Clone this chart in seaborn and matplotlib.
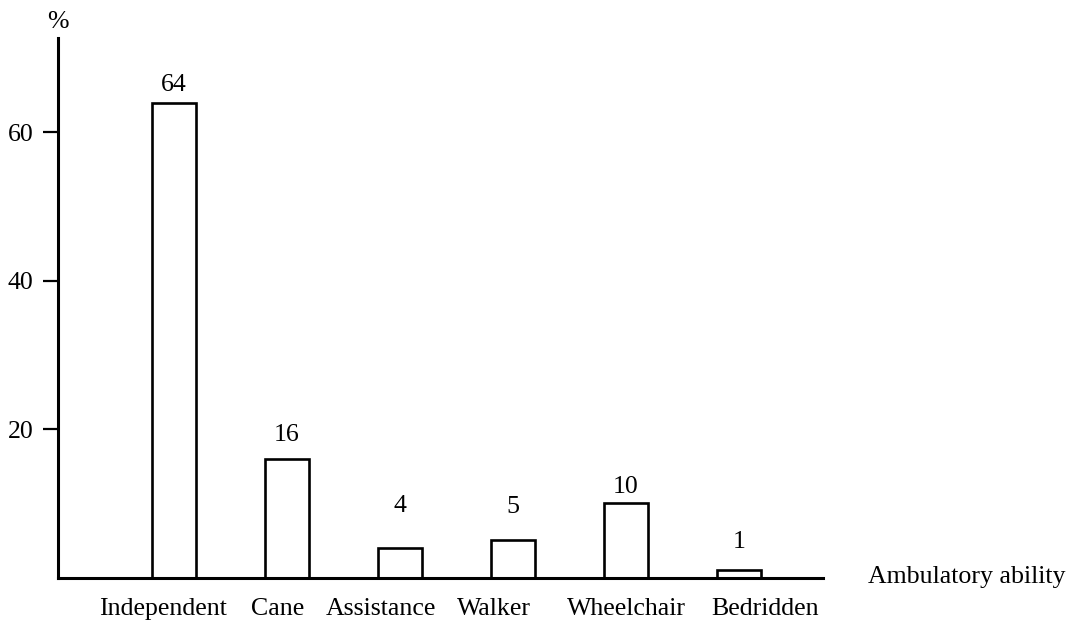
import matplotlib
matplotlib.use("Agg")
import matplotlib.pyplot as plt
import matplotlib.transforms as mtransforms
import numpy as np
import pandas as pd
import seaborn as sns

# data
categories = ["Independent", "Cane", "Assistance", "Walker", "Wheelchair", "Bedridden"]
percent = [64, 16, 4, 5, 10, 1]
yticks = [20, 40, 60]

# small layout quirks of the original drawing
label_shift = [-0.10, -0.08, -0.17, -0.17, 0.0, 0.23]   # category label offset (x units)
value_gap = [13, 17, 30, 24, 12, 20]                      # value label offset (points)

sns.set_style("ticks")
plt.rcParams["font.family"] = ["Liberation Serif", "DejaVu Serif"]
plt.rcParams["font.size"] = 18.6
plt.rcParams["text.color"] = "black"
plt.rcParams["axes.edgecolor"] = "black"
plt.rcParams["xtick.color"] = "black"
plt.rcParams["ytick.color"] = "black"

df = pd.DataFrame({"ability": categories, "pct": percent})

fig = plt.figure(figsize=(10.88, 6.25), dpi=100)
ax = fig.add_axes([0.0533, 0.076, 0.7031, 0.8632])

sns.barplot(data=df, x="ability", y="pct", color="white", edgecolor="black",
            linewidth=1.9, width=0.39, saturation=1, ax=ax)

ax.set_xlim(-1.027, 5.743)
ax.set_ylim(0, 72.7)

for s in ["top", "right"]:
    ax.spines[s].set_visible(False)
ax.spines["left"].set_linewidth(2.2)
ax.spines["bottom"].set_linewidth(2.2)

ax.set_yticks(yticks)
ax.set_yticklabels([str(t) for t in yticks])
ax.tick_params(axis="y", direction="out", length=10.8, width=1.6, pad=7, labelsize=18.6)

pos = np.arange(len(categories))
ax.set_xticks(pos + np.array(label_shift))
ax.set_xticklabels(categories)
ax.tick_params(axis="x", length=0, pad=15, labelsize=18.6)

ax.set_xlabel("")
ax.set_ylabel("")

for i, v in enumerate(percent):
    ax.annotate(str(v), (pos[i], v), xytext=(0, value_gap[i]),
                textcoords="offset points", ha="center", va="center", fontsize=18.6)

ax.text(0.0, 1.03, "%", transform=ax.transAxes, ha="center", va="center", fontsize=18.6)

trans = mtransforms.blended_transform_factory(ax.transAxes, ax.transData)
ax.text(1.059, 0, "Ambulatory ability", transform=trans, ha="left", va="center",
        fontsize=18.6, clip_on=False)

fig.savefig("out.png", dpi=100, facecolor="white")
